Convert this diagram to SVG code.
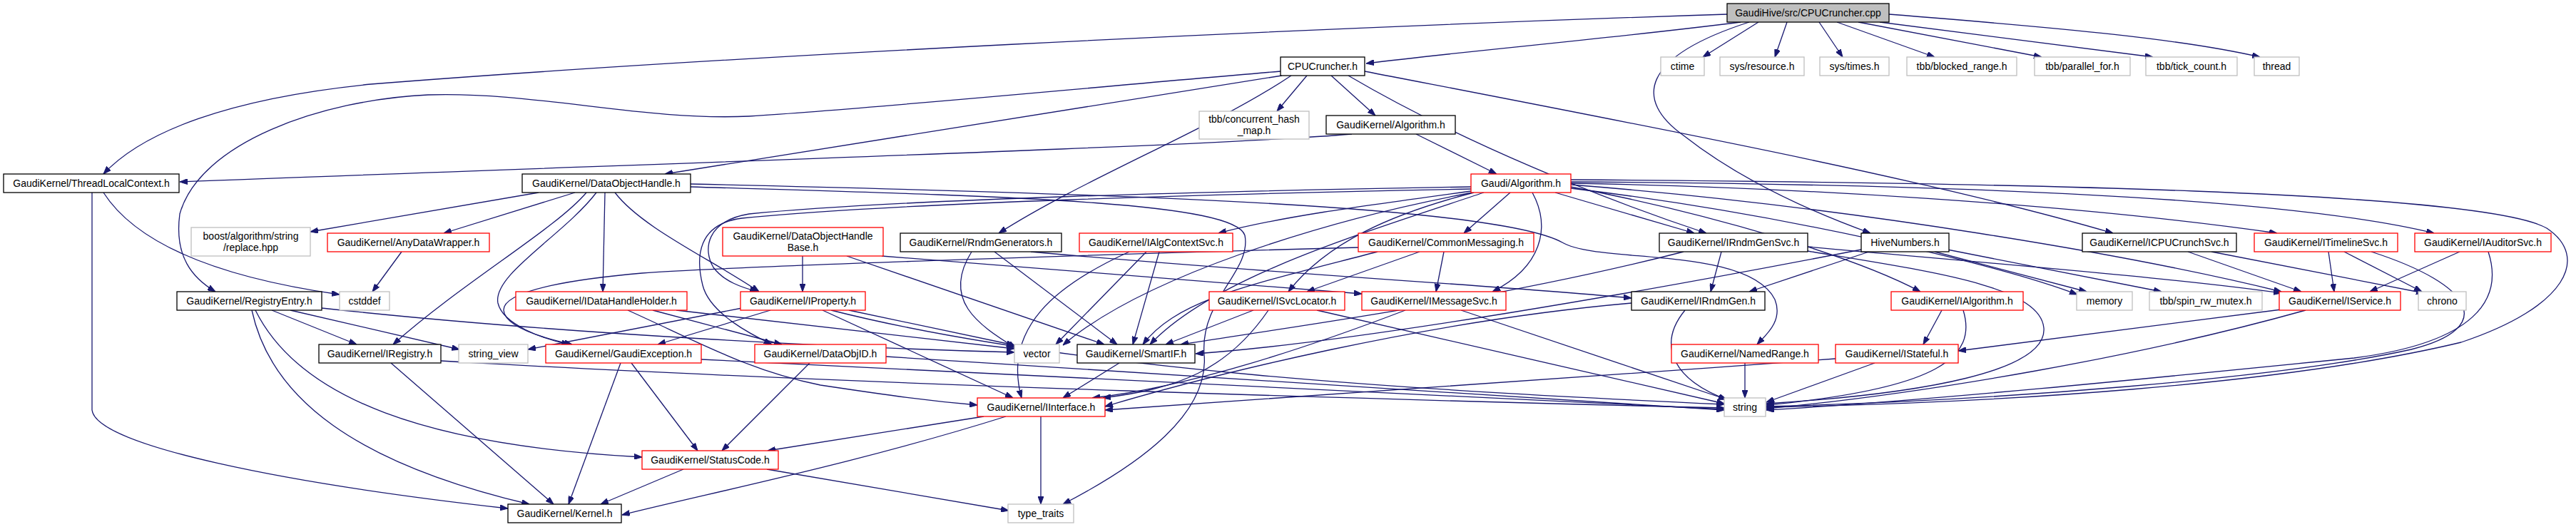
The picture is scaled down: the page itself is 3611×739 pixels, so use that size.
<svg xmlns="http://www.w3.org/2000/svg" width="3611" height="739" viewBox="0 0 3611 739">
<style>
.n rect{fill:#fff;stroke-width:1.3}
.b rect{stroke:#000}
.r rect{stroke:#ff0000}
.g rect{stroke:#bfbfbf}
.root rect{fill:#bfbfbf;stroke:#000}
text{font-family:"Liberation Sans",Arial,sans-serif;font-size:14px;text-anchor:middle;fill:#000}
.e path{fill:none;stroke:#191970;stroke-width:1.3;marker-end:url(#a)}
</style>
<defs>
<marker id="a" viewBox="0 0 11 8" refX="11" refY="4" markerWidth="11" markerHeight="8" orient="auto" markerUnits="userSpaceOnUse"><path d="M0,0 L11,4 L0,8 z" fill="#191970" stroke="#191970" stroke-width="1"/></marker>
</defs>
<rect width="3611" height="739" fill="#fff"/>
<g id="edges" class="e">
<path d="M2440,31 C2250,55 2050,72 1915,89"/>
<path d="M2421,20 C1800,40 1000,80 520,118 C320,138 200,185 145,244"/>
<path d="M2452,31 C2300,80 2290,140 2360,190 C2430,245 2520,290 2622,327"/>
<path d="M2465,31 L2387,80"/>
<path d="M2505,31 L2488,80"/>
<path d="M2550,31 L2583,80"/>
<path d="M2575,31 L2712,80"/>
<path d="M2605,31 L2862,80"/>
<path d="M2635,31 L3018,80"/>
<path d="M2648,20 C2900,40 3060,55 3168,80"/>
<path d="M1832,106 L1790,156"/>
<path d="M1866,106 L1928,162"/>
<path d="M1797,106 L932,244"/>
<path d="M1795,100 C1500,125 1250,150 1050,163 C900,170 750,128 600,133 C450,140 280,200 252,300 C244,360 270,390 302,409"/>
<path d="M1810,106 C1700,180 1520,250 1400,327"/>
<path d="M1890,106 C2050,200 2250,280 2392,327"/>
<path d="M1913,100 C2300,175 2700,250 2962,327"/>
<path d="M1985,188 L2098,244"/>
<path d="M1895,188 C1700,205 900,230 252,255"/>
<path d="M129,270 L129,575 C135,625 400,678 712,713"/>
<path d="M145,270 C190,340 300,388 476,413"/>
<path d="M755,270 L435,325"/>
<path d="M806,270 L622,327"/>
<path d="M822,270 C780,320 650,395 551,483"/>
<path d="M836,270 C790,330 690,385 698,425 C705,455 760,475 798,483"/>
<path d="M848,270 L845,409"/>
<path d="M862,270 C900,320 1000,365 1064,409"/>
<path d="M968,258 C1600,272 2100,290 2190,340 C2240,370 2450,345 2488,420 C2500,450 2475,470 2463,483"/>
<path d="M968,262 C1400,275 1730,282 1745,330 C1755,380 1682,420 1688,497 C1695,580 1600,650 1490,707"/>
<path d="M2117,270 L2052,327"/>
<path d="M2148,270 C2175,320 2160,375 2092,409"/>
<path d="M2180,270 L2375,327"/>
<path d="M2062,268 C1900,290 1790,305 1708,327"/>
<path d="M2062,262 C1700,268 1250,280 1050,300 C990,310 985,350 1000,375 C1015,395 1040,403 1062,409"/>
<path d="M2062,265 C1700,272 1250,285 1040,306 C978,314 975,360 985,400 C995,440 1055,470 1082,483"/>
<path d="M2066,270 C1950,300 1860,340 1806,409"/>
<path d="M2080,270 C1900,330 1700,390 1612,483"/>
<path d="M2064,270 C1850,310 1600,390 1490,484"/>
<path d="M2202,262 C2400,300 2600,360 2692,409"/>
<path d="M2202,259 C2600,290 3000,360 3198,409"/>
<path d="M2202,257 C2500,262 2900,285 3192,327"/>
<path d="M2202,255 C2700,258 3200,275 3412,327"/>
<path d="M2202,252 C2800,256 3480,268 3570,320 C3630,360 3600,430 3450,480 C3200,540 2800,565 2476,571"/>
<path d="M2202,264 C2500,300 2800,370 2912,413"/>
<path d="M2024,353 L2013,409"/>
<path d="M1990,353 L1832,409"/>
<path d="M1931,353 C1750,400 1650,420 1602,483"/>
<path d="M1904,347 C1500,358 1000,375 900,383 C820,390 705,405 706,435 C708,460 770,476 802,483"/>
<path d="M2413,353 L2398,409"/>
<path d="M2534,346 C2800,370 3050,390 3198,411"/>
<path d="M2360,353 C2100,420 1800,460 1655,483"/>
<path d="M2534,352 C2700,380 2860,400 2865,460 C2870,520 2700,552 2476,566"/>
<path d="M2712,353 L2925,409"/>
<path d="M2730,350 L3030,409"/>
<path d="M2620,353 L2452,409"/>
<path d="M2609,350 C2300,410 1900,480 1676,496"/>
<path d="M2362,435 C2325,480 2340,530 2420,560"/>
<path d="M2287,425 C2000,450 1700,525 1549,570"/>
<path d="M2722,435 L2696,483"/>
<path d="M2752,435 C2772,500 2720,545 2476,568"/>
<path d="M3198,434 L2745,492"/>
<path d="M3232,435 C3000,500 2700,552 2476,573"/>
<path d="M3067,353 L3226,409"/>
<path d="M3100,353 L3398,411"/>
<path d="M3264,353 L3272,409"/>
<path d="M3286,353 L3395,409"/>
<path d="M3324,353 C3470,400 3500,460 3380,490 C3200,530 2800,562 2476,570"/>
<path d="M3448,353 L3322,409"/>
<path d="M3488,353 C3510,420 3470,480 3300,502 C3000,532 2700,562 2476,575"/>
<path d="M2628,509 L2476,564"/>
<path d="M2573,503 C2200,530 1800,560 1549,575"/>
<path d="M2446,509 L2446,558"/>
<path d="M1970,435 C1800,500 1650,545 1531,558"/>
<path d="M2048,435 L2420,560"/>
<path d="M1757,435 L1634,483"/>
<path d="M1778,435 C1720,520 1650,545 1546,558"/>
<path d="M1846,435 L2417,566"/>
<path d="M1607,353 L1480,483"/>
<path d="M1625,353 C1612,400 1600,440 1588,483"/>
<path d="M1583,353 C1480,400 1405,460 1432,558"/>
<path d="M1362,353 C1320,420 1370,455 1424,488"/>
<path d="M1394,353 L1566,483"/>
<path d="M1445,353 C1800,385 2100,400 2287,418"/>
<path d="M1125,359 L1125,409"/>
<path d="M1187,359 L1548,483"/>
<path d="M1236,359 C1500,380 1750,398 1909,412"/>
<path d="M915,435 L1096,483"/>
<path d="M880,435 C980,480 1050,520 1150,540 C1250,555 1300,562 1370,568"/>
<path d="M948,435 L1422,489"/>
<path d="M1080,435 L922,483"/>
<path d="M1040,432 L740,490"/>
<path d="M1190,435 L1422,484"/>
<path d="M1153,435 L1420,558"/>
<path d="M1165,435 C1500,520 2000,548 2417,567"/>
<path d="M381,435 L500,483"/>
<path d="M407,435 L644,490"/>
<path d="M451,432 C800,470 1200,488 1422,494"/>
<path d="M353,435 C380,560 500,650 742,707"/>
<path d="M358,435 C420,560 600,625 900,641"/>
<path d="M548,509 L776,707"/>
<path d="M618,506 C1200,540 2000,562 2417,572"/>
<path d="M870,509 L797,707"/>
<path d="M885,509 L978,632"/>
<path d="M983,504 C1500,530 2000,557 2417,574"/>
<path d="M1135,509 L1012,632"/>
<path d="M1242,500 C1700,530 2100,556 2417,575"/>
<path d="M563,353 L522,409"/>
<path d="M1569,509 L1490,558"/>
<path d="M1379,584 L1076,632"/>
<path d="M1410,584 C1200,650 1000,690 872,722"/>
<path d="M1459,584 L1459,707"/>
<path d="M958,658 L842,707"/>
<path d="M1075,658 L1414,716"/>
</g>
<g id="n_root" class="n root"><rect x="2421" y="5" width="227" height="26"/><text x="2534.5" y="23">GaudiHive/src/CPUCruncher.cpp</text></g>
<g id="n_cpu_h" class="n b"><rect x="1795" y="80" width="118" height="26"/><text x="1854" y="98">CPUCruncher.h</text></g>
<g id="n_ctime" class="n g"><rect x="2328" y="80" width="61" height="26"/><text x="2358.5" y="98">ctime</text></g>
<g id="n_sysres" class="n g"><rect x="2411" y="80" width="118" height="26"/><text x="2470" y="98">sys/resource.h</text></g>
<g id="n_systimes" class="n g"><rect x="2551" y="80" width="97" height="26"/><text x="2599.5" y="98">sys/times.h</text></g>
<g id="n_blocked" class="n g"><rect x="2673" y="80" width="154" height="26"/><text x="2750" y="98">tbb/blocked_range.h</text></g>
<g id="n_parfor" class="n g"><rect x="2852" y="80" width="134" height="26"/><text x="2919" y="98">tbb/parallel_for.h</text></g>
<g id="n_tick" class="n g"><rect x="3008" y="80" width="128" height="26"/><text x="3072" y="98">tbb/tick_count.h</text></g>
<g id="n_thread" class="n g"><rect x="3160" y="80" width="63" height="26"/><text x="3191.5" y="98">thread</text></g>
<g id="n_chm" class="n g"><rect x="1681" y="156" width="154" height="39"/><text x="1758" y="172">tbb/concurrent_hash</text><text x="1758" y="188">_map.h</text></g>
<g id="n_galg_h" class="n b"><rect x="1859" y="162" width="181" height="26"/><text x="1949.5" y="180">GaudiKernel/Algorithm.h</text></g>
<g id="n_tlc" class="n b"><rect x="5" y="244" width="246" height="26"/><text x="128" y="262">GaudiKernel/ThreadLocalContext.h</text></g>
<g id="n_doh" class="n b"><rect x="732" y="244" width="236" height="26"/><text x="850" y="262">GaudiKernel/DataObjectHandle.h</text></g>
<g id="n_galgo" class="n r"><rect x="2062" y="244" width="140" height="26"/><text x="2132" y="262">Gaudi/Algorithm.h</text></g>
<g id="n_boost" class="n g"><rect x="268" y="319" width="167" height="40"/><text x="351.5" y="336">boost/algorithm/string</text><text x="351.5" y="352">/replace.hpp</text></g>
<g id="n_adw" class="n r"><rect x="459" y="327" width="227" height="26"/><text x="572.5" y="345">GaudiKernel/AnyDataWrapper.h</text></g>
<g id="n_dohb" class="n r"><rect x="1013" y="319" width="225" height="40"/><text x="1125.5" y="336">GaudiKernel/DataObjectHandle</text><text x="1125.5" y="352">Base.h</text></g>
<g id="n_rndmgens" class="n b"><rect x="1262" y="327" width="226" height="26"/><text x="1375" y="345">GaudiKernel/RndmGenerators.h</text></g>
<g id="n_iacs" class="n r"><rect x="1513" y="327" width="215" height="26"/><text x="1620.5" y="345">GaudiKernel/IAlgContextSvc.h</text></g>
<g id="n_cm" class="n r"><rect x="1904" y="327" width="246" height="26"/><text x="2027" y="345">GaudiKernel/CommonMessaging.h</text></g>
<g id="n_irgs" class="n b"><rect x="2326" y="327" width="208" height="26"/><text x="2430" y="345">GaudiKernel/IRndmGenSvc.h</text></g>
<g id="n_hive" class="n b"><rect x="2609" y="327" width="123" height="26"/><text x="2670.5" y="345">HiveNumbers.h</text></g>
<g id="n_icpu" class="n b"><rect x="2919" y="327" width="216" height="26"/><text x="3027" y="345">GaudiKernel/ICPUCrunchSvc.h</text></g>
<g id="n_itl" class="n r"><rect x="3160" y="327" width="201" height="26"/><text x="3260.5" y="345">GaudiKernel/ITimelineSvc.h</text></g>
<g id="n_iaud" class="n r"><rect x="3385" y="327" width="191" height="26"/><text x="3480.5" y="345">GaudiKernel/IAuditorSvc.h</text></g>
<g id="n_regent" class="n b"><rect x="248" y="409" width="203" height="26"/><text x="349.5" y="427">GaudiKernel/RegistryEntry.h</text></g>
<g id="n_cstddef" class="n g"><rect x="476" y="409" width="70" height="26"/><text x="511" y="427">cstddef</text></g>
<g id="n_idhh" class="n r"><rect x="723" y="409" width="240" height="26"/><text x="843" y="427">GaudiKernel/IDataHandleHolder.h</text></g>
<g id="n_iprop" class="n r"><rect x="1038" y="409" width="175" height="26"/><text x="1125.5" y="427">GaudiKernel/IProperty.h</text></g>
<g id="n_isvcl" class="n r"><rect x="1695" y="409" width="190" height="26"/><text x="1790" y="427">GaudiKernel/ISvcLocator.h</text></g>
<g id="n_imsg" class="n r"><rect x="1909" y="409" width="202" height="26"/><text x="2010" y="427">GaudiKernel/IMessageSvc.h</text></g>
<g id="n_irg" class="n b"><rect x="2287" y="409" width="187" height="26"/><text x="2380.5" y="427">GaudiKernel/IRndmGen.h</text></g>
<g id="n_ialg" class="n r"><rect x="2651" y="409" width="185" height="26"/><text x="2743.5" y="427">GaudiKernel/IAlgorithm.h</text></g>
<g id="n_memory" class="n g"><rect x="2911" y="409" width="78" height="26"/><text x="2950" y="427">memory</text></g>
<g id="n_spin" class="n g"><rect x="3013" y="409" width="158" height="26"/><text x="3092" y="427">tbb/spin_rw_mutex.h</text></g>
<g id="n_isvc" class="n r"><rect x="3195" y="409" width="170" height="26"/><text x="3280" y="427">GaudiKernel/IService.h</text></g>
<g id="n_chrono" class="n g"><rect x="3390" y="409" width="67" height="26"/><text x="3423.5" y="427">chrono</text></g>
<g id="n_ireg" class="n b"><rect x="447" y="483" width="171" height="26"/><text x="532.5" y="501">GaudiKernel/IRegistry.h</text></g>
<g id="n_sv" class="n g"><rect x="643" y="483" width="97" height="26"/><text x="691.5" y="501">string_view</text></g>
<g id="n_gex" class="n r"><rect x="765" y="483" width="218" height="26"/><text x="874" y="501">GaudiKernel/GaudiException.h</text></g>
<g id="n_doid" class="n r"><rect x="1058" y="483" width="184" height="26"/><text x="1150" y="501">GaudiKernel/DataObjID.h</text></g>
<g id="n_vector" class="n g"><rect x="1422" y="483" width="63" height="26"/><text x="1453.5" y="501">vector</text></g>
<g id="n_smartif" class="n b"><rect x="1510" y="483" width="165" height="26"/><text x="1592.5" y="501">GaudiKernel/SmartIF.h</text></g>
<g id="n_nr" class="n r"><rect x="2343" y="483" width="206" height="26"/><text x="2446" y="501">GaudiKernel/NamedRange.h</text></g>
<g id="n_istf" class="n r"><rect x="2573" y="483" width="172" height="26"/><text x="2659" y="501">GaudiKernel/IStateful.h</text></g>
<g id="n_iif" class="n r"><rect x="1370" y="558" width="179" height="26"/><text x="1459.5" y="576">GaudiKernel/IInterface.h</text></g>
<g id="n_string" class="n g"><rect x="2417" y="558" width="58" height="26"/><text x="2446" y="576">string</text></g>
<g id="n_sc" class="n r"><rect x="900" y="632" width="191" height="26"/><text x="995.5" y="650">GaudiKernel/StatusCode.h</text></g>
<g id="n_kernel" class="n b"><rect x="712" y="707" width="159" height="26"/><text x="791.5" y="725">GaudiKernel/Kernel.h</text></g>
<g id="n_tt" class="n g"><rect x="1413" y="707" width="92" height="26"/><text x="1459" y="725">type_traits</text></g>
</svg>
